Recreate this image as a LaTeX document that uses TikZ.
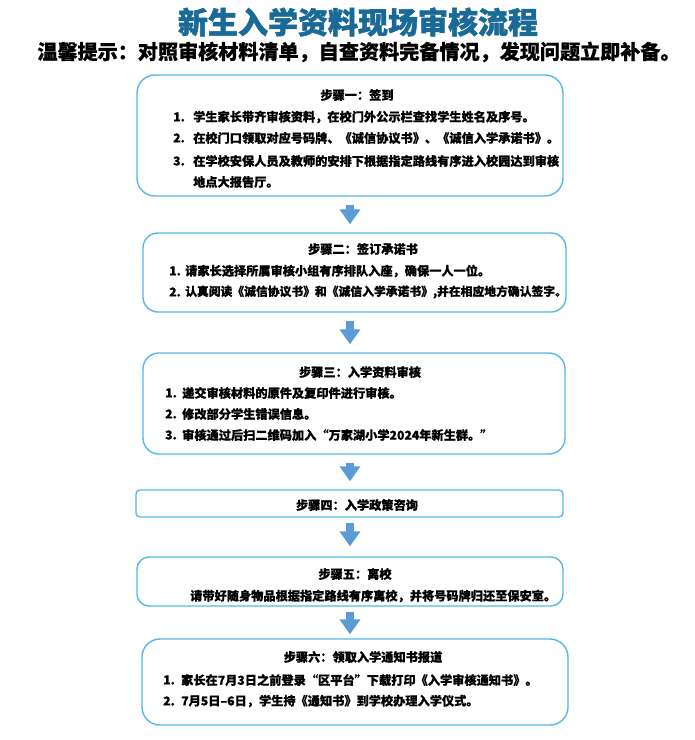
\documentclass[tikz,border=0pt]{standalone}
\usepackage{fontspec}
\setmainfont{Noto Sans CJK SC}[BoldFeatures={FakeBold=0.6}]
\newfontfamily\heavyfont{Noto Sans CJK SC}[BoldFeatures={FakeBold=1.6}]
\usetikzlibrary{arrows.meta}
\definecolor{boxblue}{RGB}{86,184,232}
\definecolor{arrowblue}{RGB}{91,155,213}
\definecolor{titleblue}{RGB}{26,106,152}
\begin{document}
\begin{tikzpicture}[x=1pt,y=-1pt,
  stepbox/.style={draw=boxblue,line width=1.4pt,rounded corners=#1,inner sep=0pt},
  txt/.style={anchor=west,inner sep=0pt,font=\bfseries\fontsize{12.2}{14}\selectfont},
  ctxt/.style={anchor=center,inner sep=0pt,font=\bfseries\fontsize{12.2}{14}\selectfont},
  blockarrow/.style={draw=arrowblue,line width=8pt,-{Triangle[width=20pt,length=15pt]},shorten <=8pt,shorten >=8pt}]
\useasboundingbox[fill=white] (0,0) rectangle (695,740);
% title
\node[inner sep=0pt,text=titleblue,font=\heavyfont\bfseries\fontsize{30}{34}\selectfont] (title) at (358,22) {新生入学资料现场审核流程};
\node[inner sep=0pt,font=\bfseries\fontsize{20.1}{24}\selectfont] (sub) at (359,52) {温馨提示：对照审核材料清单，自查资料完备情况，发现问题立即补备。};
% boxes
\node[stepbox=18pt,minimum width=426pt,minimum height=121pt] (b1) at (350,135.5) {};
\node[stepbox=15pt,minimum width=423pt,minimum height=79pt] (b2) at (354.5,272.5) {};
\node[stepbox=16pt,minimum width=422pt,minimum height=101pt] (b3) at (354,403.5) {};
\node[stepbox=4pt,minimum width=427pt,minimum height=27pt] (b4) at (349.5,503.5) {};
\node[stepbox=12pt,minimum width=426pt,minimum height=49pt] (b5) at (350,581.5) {};
\node[stepbox=18pt,minimum width=426pt,minimum height=86pt] (b6) at (355,682) {};
% arrows
\coordinate (ax) at (350,0);
\draw[blockarrow] (b1.south -| ax) -- (b2.north -| ax);
\draw[blockarrow] (b2.south -| ax) -- (b3.north -| ax);
\draw[blockarrow] (b3.south -| ax) -- (b4.north -| ax);
\draw[blockarrow,shorten <=5pt,shorten >=10pt] (b4.south -| ax) -- (b5.north -| ax);
\draw[blockarrow,shorten <=5pt,shorten >=4pt] (b5.south -| ax) -- (b6.north -| ax);
% box 1
\node[ctxt] (h1) at (357,95) {步骤一：签到};
\node[txt] (n11) at (173,117) {1.};
\node[txt] (s11) at (193,117) {学生家长带齐审核资料，在校门外公示栏查找学生姓名及序号。};
\node[txt] (n12) at (173,138) {2.};
\node[txt] (s12) at (193,138) {在校门口领取对应号码牌、《诚信协议书》、《诚信入学承诺书》。};
\node[txt] (n13) at (173,161) {3.};
\node[txt] (s13) at (193,161) {在学校安保人员及教师的安排下根据指定路线有序进入校园达到审核};
\node[txt] (s14) at (193,182) {地点大报告厅。};
% box 2
\node[ctxt] (h2) at (363,249) {步骤二：签订承诺书};
\node[txt] (n21) at (169,271) {1.};
\node[txt] (s21) at (185,271) {请家长选择所属审核小组有序排队入座，确保一人一位。};
\node[txt] (n22) at (169,292) {2.};
\node[txt,font=\bfseries\fontsize{11.8}{14}\selectfont] (s22) at (185,292) {认真阅读《诚信协议书》和《诚信入学承诺书》,并在相应地方确认签字。};
% box 3
\node[ctxt] (h3) at (360,372) {步骤三：入学资料审核};
\node[txt] (n31) at (165,393) {1.};
\node[txt] (s31) at (182,393) {递交审核材料的原件及复印件进行审核。};
\node[txt] (n32) at (165,414) {2.};
\node[txt] (s32) at (182,414) {修改部分学生错误信息。};
\node[txt] (n33) at (165,435) {3.};
\node[txt] (s33) at (182,435) {审核通过后扫二维码加入“万家湖小学2024年新生群。”};
% box 4
\node[ctxt] (h4) at (357,505) {步骤四：入学政策咨询};
% box 5
\node[ctxt] (h5) at (355,574) {步骤五：离校};
\node[txt] (s51) at (190,596) {请带好随身物品根据指定路线有序离校，并将号码牌归还至保安室。};
% box 6
\node[ctxt] (h6) at (363,657) {步骤六：领取入学通知书报道};
\node[txt] (n61) at (163,680) {1.};
\node[txt] (s61) at (181,680) {家长在7月3日之前登录“区平台”下载打印《入学审核通知书》。};
\node[txt] (n62) at (163,701) {2.};
\node[txt] (s62) at (181,701) {7月5日–6日，学生持《通知书》到学校办理入学仪式。};
\end{tikzpicture}
\end{document}
